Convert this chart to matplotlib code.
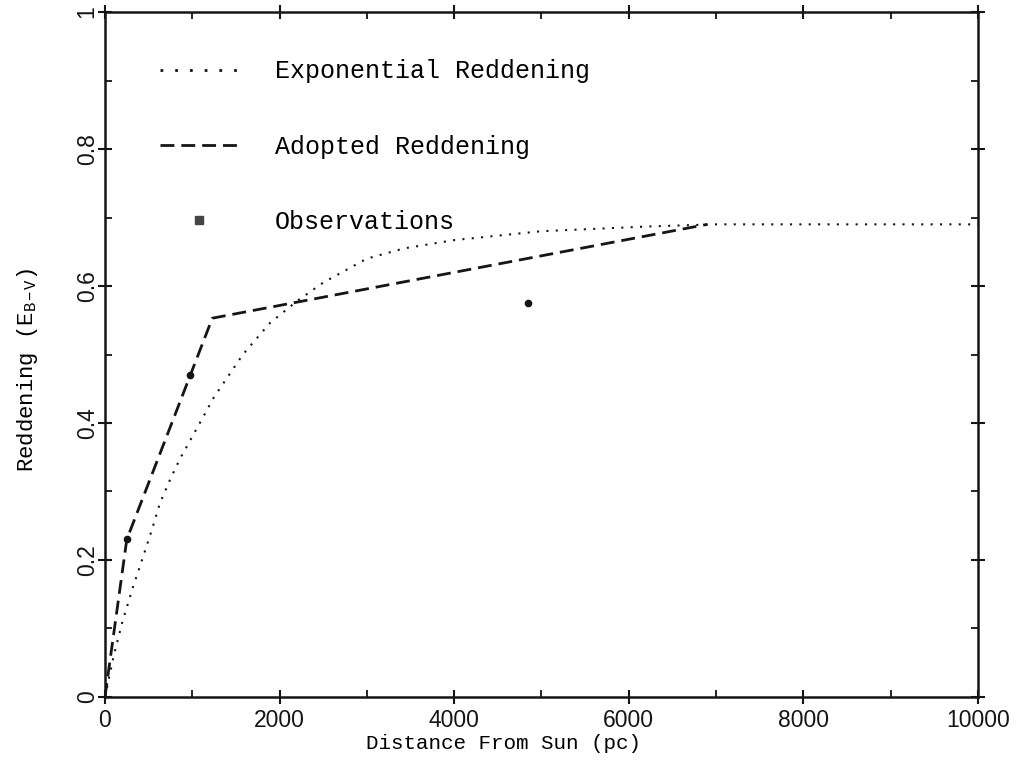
import numpy as np
import matplotlib.pyplot as plt
from matplotlib.lines import Line2D
from matplotlib.ticker import MultipleLocator, FuncFormatter

# values
exp_dist = [0, 100, 200, 320, 435, 540, 630, 745, 860, 1000, 1250, 1580, 1890,
            2200, 2500, 3000, 3430, 4000, 5000, 6240, 7000, 8000, 10000]
exp_redd = [0, 0.06, 0.11, 0.16, 0.204, 0.245, 0.283, 0.317, 0.348, 0.38, 0.438,
            0.50, 0.546, 0.578, 0.605, 0.64, 0.655, 0.667, 0.68, 0.687, 0.69,
            0.69, 0.69]

adopt_dist = [0, 250, 1230, 6900]
adopt_redd = [0, 0.23, 0.553, 0.69]

obs_dist = [250, 970, 4850]
obs_redd = [0.23, 0.47, 0.575]

labels = ['Exponential Reddening', 'Adopted Reddening', 'Observations']

plt.rcParams['mathtext.fontset'] = 'custom'
plt.rcParams['mathtext.rm'] = 'Liberation Mono'
plt.rcParams['mathtext.it'] = 'Liberation Mono'

ink = '#151515'
fig = plt.figure(figsize=(10.16, 7.6), dpi=100)
ax = fig.add_axes([0.1033, 0.0829, 0.8593, 0.9013])

ax.plot(exp_dist, exp_redd, color=ink, lw=1.5, linestyle=(0, (1, 3.5)))
ax.plot(adopt_dist, adopt_redd, color=ink, lw=2, linestyle=(0, (5, 2.5)))
ax.plot(obs_dist, obs_redd, 'o', color=ink, ms=4.5)

ax.set_xlim(0, 10000)
ax.set_ylim(0, 1.0)
ax.xaxis.set_major_locator(MultipleLocator(2000))
ax.xaxis.set_minor_locator(MultipleLocator(1000))
ax.yaxis.set_major_locator(MultipleLocator(0.2))
ax.yaxis.set_minor_locator(MultipleLocator(0.1))
ax.yaxis.set_major_formatter(FuncFormatter(lambda v, p: '%g' % round(v, 2)))

for s in ax.spines.values():
    s.set_linewidth(1.8)
    s.set_color(ink)
ax.tick_params(which='major', direction='inout', length=10, width=1.5,
               top=True, right=True, colors=ink, labelsize=16.5,
               labelfontfamily='Liberation Sans')
ax.tick_params(which='minor', direction='in', length=5, width=1.3,
               top=True, right=True, colors=ink)
ax.tick_params(axis='x', pad=4)
ax.tick_params(axis='y', pad=-0.5)
for lab in ax.get_yticklabels():
    lab.set_rotation(90)
    lab.set_va('center')

ax.set_xlabel('Distance From Sun (pc)', fontsize=15, family='Liberation Mono')
ax.xaxis.set_label_coords(0.457, -0.054)
ax.set_ylabel(r'Reddening (E$_{\mathrm{B-V}}$)', fontsize=16,
              family='Liberation Mono')
ax.yaxis.set_label_coords(-0.074, 0.477)

# legend drawn with its own sample styles, as in the original
handles = [
    Line2D([], [], color=ink, lw=2, linestyle=(0, (1, 4.3))),
    Line2D([], [], color=ink, lw=2, linestyle=(0, (5, 2.5))),
    Line2D([], [], color='#444444', marker='s', ms=6, linestyle='none'),
]
ax.legend(handles, labels, loc='upper left', bbox_to_anchor=(0.063, 0.931),
          frameon=False, prop={'family': 'Liberation Mono', 'size': 18},
          handlelength=3.1, handletextpad=1.5, labelspacing=2.05, numpoints=1,
          borderpad=0, borderaxespad=0)

fig.savefig('out.png', dpi=100)
